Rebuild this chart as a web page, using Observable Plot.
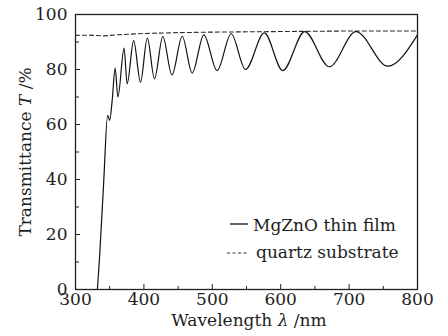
<!DOCTYPE html>
<html><head><meta charset="utf-8">
<script src="https://cdn.jsdelivr.net/npm/d3@7"></script>
<script src="https://cdn.jsdelivr.net/npm/@observablehq/plot@0.6"></script>
<style>
html,body{margin:0;padding:0;background:#fff;}
#wrap{position:relative;width:448px;height:336px;}
</style></head><body><div id="wrap"></div>
<script>
// MgZnO thin film transmittance (wavelength nm, T %)
const filmWavelength = [332, 335, 341, 347, 350, 353.6, 358, 362, 371, 375.5, 385, 395, 405, 415.5, 427.6, 441, 456, 470.6, 487.6, 507, 527.6, 548.5, 576, 603, 635, 671, 710, 756.6, 800];
const filmT          = [0,   11,  38,  63.3, 61.5, 68.7, 80.5, 70, 87.8, 74.8, 90.5, 75.4, 91.4, 76.6, 92, 78, 92.1, 78.7, 92.6, 79.6, 93, 80, 93.3, 79.6, 93.8, 81, 93.8, 81.2, 92.6];
// quartz substrate
const substrateWavelength = [300, 320, 340, 360, 400, 450, 500, 600, 700, 800];
const substrateT          = [92.4, 92.5, 92.2, 92.6, 93.1, 93.4, 93.6, 93.8, 94, 94];

const xTicks = [300, 400, 500, 600, 700, 800];
const xMinorTicks = [350, 450, 550, 650, 750];
const yTicks = [0, 20, 40, 60, 80, 100];
const yMinorTicks = [10, 30, 50, 70, 90];
const seriesNames = ["MgZnO thin film", "quartz substrate"];

const film = filmWavelength.map((w, i) => ({w, t: filmT[i]}));
const substrate = substrateWavelength.map((w, i) => ({w, t: substrateT[i]}));

const font = "'DejaVu Serif', serif";
const ink = "#1e1e1e";

const chart = Plot.plot({
  width: 448, height: 336,
  marginLeft: 75, marginRight: 31, marginTop: 14, marginBottom: 47,
  style: {fontFamily: font, fontSize: "17px", color: ink, background: "#fff"},
  x: {domain: [300, 800]},
  y: {domain: [0, 100]},
  marks: [
    Plot.line(substrate, {x: "w", y: "t", stroke: "#2a2a2a", strokeWidth: 1.1, strokeDasharray: "4,3"}),
    Plot.line(film, {x: "w", y: "t", stroke: "#111", strokeWidth: 1.2, curve: "monotone-x"}),
    Plot.frame({stroke: "#222", strokeWidth: 1.3}),
    Plot.axisX({ticks: xTicks, tickSize: -5, tickPadding: 8, label: null, fontSize: 17}),
    Plot.axisX({ticks: xMinorTicks, tickSize: -3, tickFormat: () => "", label: null}),
    Plot.axisY({ticks: yTicks, tickSize: -5, tickPadding: 13, label: null, fontSize: 17}),
    Plot.axisY({ticks: yMinorTicks, tickSize: -4, tickFormat: () => "", label: null})
  ]
});

document.getElementById("wrap").appendChild(chart);
const svg = d3.select(chart);

// axis titles with italic symbols
const xl = svg.append("text").attr("x", 249).attr("y", 326).attr("text-anchor", "middle")
  .attr("font-family", font).attr("font-size", 17).attr("fill", ink);
xl.append("tspan").text("Wavelength ");
xl.append("tspan").attr("font-style", "italic").text("λ");
xl.append("tspan").text(" /nm");

const yl = svg.append("text").attr("transform", "translate(31,152) rotate(-90)").attr("text-anchor", "middle")
  .attr("font-family", font).attr("font-size", 17).attr("fill", ink);
yl.append("tspan").text("Transmittance ");
yl.append("tspan").attr("font-style", "italic").text("T");
yl.append("tspan").text(" /%");

// legend
const lg = svg.append("g").attr("font-family", font).attr("font-size", 17).attr("fill", ink).attr("text-anchor", "start");
lg.append("line").attr("x1", 230).attr("x2", 248).attr("y1", 224).attr("y2", 224).attr("stroke", "#111").attr("stroke-width", 1.3);
lg.append("text").attr("x", 253).attr("y", 231).attr("text-anchor", "start").text(seriesNames[0]);
lg.append("line").attr("x1", 227).attr("x2", 249).attr("y1", 253).attr("y2", 253).attr("stroke", "#333").attr("stroke-width", 1).attr("stroke-dasharray", "3,2.5");
lg.append("text").attr("x", 256).attr("y", 258).attr("text-anchor", "start").text(seriesNames[1]);
</script></body></html>
